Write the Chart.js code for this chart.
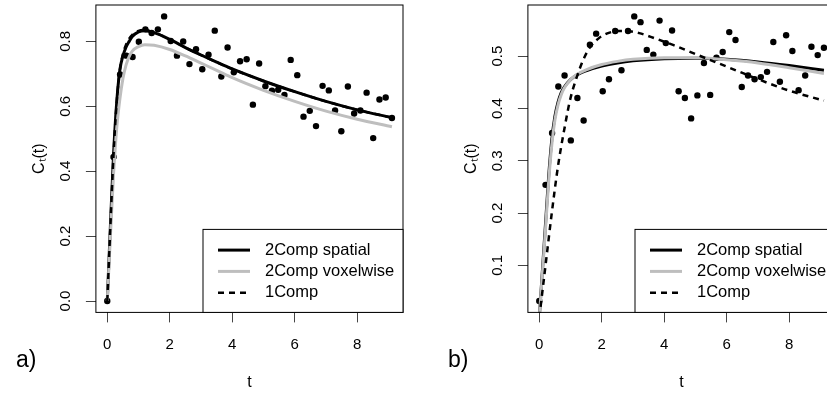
<!DOCTYPE html>
<html>
<head>
<meta charset="utf-8">
<script src="https://cdn.jsdelivr.net/npm/chart.js@4.4.0/dist/chart.umd.min.js"></script>
<style>
  html, body { margin: 0; padding: 0; background: #fff; overflow: hidden; }
  body { width: 827px; height: 396px; position: relative; }
  canvas { position: absolute; top: 0; }
  #panelA { left: 0; }
  #panelB { left: 432px; }
</style>
</head>
<body>
<canvas id="panelA" width="432" height="396"></canvas>
<canvas id="panelB" width="432" height="396"></canvas>
<script>
// sampling times shared by both panels
const sampleTimes = [0, 0.2, 0.41, 0.61, 0.81, 1.01, 1.22, 1.42, 1.62, 1.82, 2.03, 2.23, 2.43, 2.63, 2.84, 3.04,
  3.24, 3.44, 3.65, 3.85, 4.05, 4.25, 4.46, 4.66, 4.86, 5.06, 5.27, 5.47, 5.67, 5.87, 6.08, 6.28,
  6.48, 6.68, 6.89, 7.09, 7.29, 7.49, 7.7, 7.9, 8.1, 8.3, 8.51, 8.71, 8.91, 9.11];

// panel a) observed points
const pointsA = [0, 0.444, 0.698, 0.756, 0.752, 0.799, 0.837, 0.826, 0.837, 0.877, 0.801, 0.756, 0.800, 0.730, 0.776, 0.714,
  0.759, 0.833, 0.692, 0.781, 0.705, 0.739, 0.745, 0.605, 0.732, 0.662, 0.648, 0.651, 0.635, 0.743, 0.696, 0.568,
  0.586, 0.539, 0.663, 0.649, 0.587, 0.523, 0.661, 0.578, 0.587, 0.642, 0.502, 0.621, 0.627, 0.564];

// panel b) observed points
const pointsB = [0.032, 0.254, 0.353, 0.442, 0.463, 0.339, 0.420, 0.377, 0.522, 0.543, 0.433, 0.456, 0.548, 0.473, 0.548, 0.576,
  0.565, 0.512, 0.503, 0.568, 0.525, 0.549, 0.433, 0.420, 0.381, 0.425, 0.487, 0.426, 0.497, 0.508, 0.546, 0.531,
  0.441, 0.463, 0.456, 0.460, 0.470, 0.527, 0.451, 0.540, 0.510, 0.435, 0.463, 0.518, 0.502, 0.516];

// panel a) fitted curves
const curveTimesA = [0, 0.1, 0.2, 0.3, 0.4, 0.5, 0.6, 0.7, 0.8, 1.0, 1.2, 1.5, 2, 2.5, 3, 3.5, 4, 5, 6, 7, 8, 9.11];
const spatialA = [0, 0.23, 0.45, 0.61, 0.71, 0.755, 0.782, 0.8, 0.815, 0.829, 0.833, 0.827, 0.806, 0.781, 0.758, 0.736, 0.715, 0.678, 0.645, 0.615, 0.589, 0.565];
const voxelA = [0, 0.2, 0.39, 0.53, 0.62, 0.685, 0.727, 0.753, 0.77, 0.784, 0.79, 0.788, 0.775, 0.755, 0.733, 0.711, 0.688, 0.649, 0.615, 0.585, 0.56, 0.537];
const oneCompA = [0, 0.23, 0.45, 0.61, 0.71, 0.76, 0.79, 0.808, 0.82, 0.832, 0.835, 0.828, 0.806, 0.781, 0.758, 0.736, 0.715, 0.678, 0.645, 0.615, 0.589, 0.565];

// panel b) fitted curves
const curveTimesB = [0, 0.1, 0.2, 0.3, 0.4, 0.5, 0.6, 0.7, 0.8, 1.0, 1.2, 1.5, 2, 2.5, 3, 4, 5, 6, 7, 8, 9.11];
const spatialB = [0, 0.09, 0.18, 0.27, 0.34, 0.385, 0.412, 0.43, 0.441, 0.455, 0.464, 0.472, 0.481, 0.487, 0.491, 0.495, 0.496, 0.494, 0.489, 0.482, 0.473];
const voxelB = [0, 0.085, 0.17, 0.26, 0.33, 0.378, 0.407, 0.426, 0.439, 0.455, 0.465, 0.474, 0.484, 0.49, 0.494, 0.497, 0.497, 0.493, 0.487, 0.478, 0.467];
const oneCompTimesB = [0, 0.2, 0.4, 0.6, 0.8, 1.0, 1.2, 1.4, 1.6, 1.9, 2.2, 2.5, 2.8, 3.2, 3.7, 4.3, 5, 6, 7, 8, 9.11];
const oneCompB = [0, 0.1, 0.2, 0.29, 0.36, 0.42, 0.46, 0.492, 0.515, 0.534, 0.544, 0.548, 0.548, 0.544, 0.534, 0.521, 0.504, 0.48, 0.456, 0.434, 0.415];

const ticksX = [0, 2, 4, 6, 8];
const ticksYA = [0, 0.2, 0.4, 0.6, 0.8];
const ticksYB = [0.1, 0.2, 0.3, 0.4, 0.5];
const legendLabels = ['2Comp spatial', '2Comp voxelwise', '1Comp'];

const fontFamily = '"Liberation Sans", Arial, Helvetica, sans-serif';
Chart.defaults.font.family = fontFamily;
Chart.defaults.color = '#000';

function pairs(xs, ys) {
  return xs.map((x, i) => ({ x, y: ys[i] }));
}

// frame, legend box and panel letter
const boxLegend = {
  id: 'boxLegend',
  afterDraw(chart, args, opts) {
    const { ctx, chartArea: a } = chart;
    ctx.save();
    ctx.strokeStyle = '#000';
    ctx.lineWidth = 1;
    ctx.setLineDash([]);
    ctx.strokeRect(a.left, a.top, a.right - a.left, a.bottom - a.top);

    const w = 200, h = 83;
    const x0 = a.right - w, y0 = a.bottom - h;
    ctx.fillStyle = '#fff';
    ctx.fillRect(x0, y0, w, h);
    ctx.strokeRect(x0, y0, w, h);
    ctx.font = '16.5px ' + fontFamily;
    ctx.textBaseline = 'middle';
    legendLabels.forEach((label, i) => {
      const ds = chart.data.datasets.find(d => d.label === label);
      const y = y0 + 20.7 + i * 21.3;
      ctx.strokeStyle = ds.borderColor;
      ctx.lineWidth = ds.borderWidth;
      ctx.setLineDash(ds.borderDash || []);
      ctx.beginPath();
      ctx.moveTo(x0 + 15, y);
      ctx.lineTo(x0 + 47, y);
      ctx.stroke();
      ctx.fillStyle = '#000';
      ctx.fillText(label, x0 + 62, y);
    });

    ctx.font = '23px ' + fontFamily;
    ctx.textBaseline = 'alphabetic';
    ctx.fillText(opts.panel, 16, 366.8);
    ctx.restore();
  }
};

function buildChart(id, p) {
  const lineStyle = { showLine: true, pointRadius: 0, cubicInterpolationMode: 'monotone', clip: 0 };
  return new Chart(document.getElementById(id), {
    type: 'scatter',
    data: {
      datasets: [
        { ...lineStyle, label: '1Comp', data: pairs(p.oneT, p.one), borderColor: '#000', borderWidth: 2.5, borderDash: [6, 5], order: 0 },
        { ...lineStyle, label: '2Comp voxelwise', data: pairs(p.curveT, p.voxel), borderColor: '#bebebe', borderWidth: 3, order: 1 },
        { ...lineStyle, label: '2Comp spatial', data: pairs(p.curveT, p.spatial), borderColor: '#000', borderWidth: 3, order: 2 },
        { label: 'data', data: pairs(sampleTimes, p.points), pointRadius: 3.2, pointBackgroundColor: '#000', pointBorderWidth: 0, order: 3 }
      ]
    },
    options: {
      responsive: false,
      animation: false,
      layout: { padding: { top: 5, right: 29, left: 0, bottom: 0 } },
      plugins: {
        legend: { display: false },
        tooltip: { enabled: false },
        boxLegend: { panel: p.panel }
      },
      scales: {
        x: {
          type: 'linear',
          min: -0.364,
          max: 9.464,
          afterBuildTicks: s => { s.ticks = ticksX.map(v => ({ value: v })); },
          afterFit: s => { s.height = 83.6; s.paddingLeft = 0; s.paddingRight = 0; },
          grid: { drawOnChartArea: false, tickLength: 10, color: '#444', lineWidth: 1 },
          border: { display: false },
          ticks: { autoSkip: false, maxRotation: 0, padding: 13, font: { size: 15 }, color: '#000', callback: v => String(v) },
          title: { display: true, text: 't', font: { size: 16 }, color: '#000', padding: { top: 0, bottom: 4 } }
        },
        y: {
          type: 'linear',
          min: p.yMin,
          max: p.yMax,
          afterBuildTicks: s => { s.ticks = p.yTicks.map(v => ({ value: v })); },
          afterFit: s => { s.width = 95.9; s.paddingTop = 0; s.paddingBottom = 0; },
          grid: { drawOnChartArea: false, tickLength: 10, color: '#444', lineWidth: 1 },
          border: { display: false },
          ticks: { autoSkip: false, minRotation: 90, maxRotation: 90, crossAlign: 'center', padding: 9.6, font: { size: 15 }, color: '#000', callback: v => v.toFixed(1) },
          title: { display: true, text: 'Cₜ(t)', font: { size: 16 }, color: '#000', padding: { top: 30, bottom: 0 } }
        }
      }
    },
    plugins: [boxLegend]
  });
}

buildChart('panelA', {
  panel: 'a)', points: pointsA, curveT: curveTimesA, spatial: spatialA, voxel: voxelA,
  oneT: curveTimesA, one: oneCompA, yMin: -0.0351, yMax: 0.9121, yTicks: ticksYA
});

buildChart('panelB', {
  panel: 'b)', points: pointsB, curveT: curveTimesB, spatial: spatialB, voxel: voxelB,
  oneT: oneCompTimesB, one: oneCompB, yMin: 0.0102, yMax: 0.5978, yTicks: ticksYB
});
</script>
</body>
</html>
